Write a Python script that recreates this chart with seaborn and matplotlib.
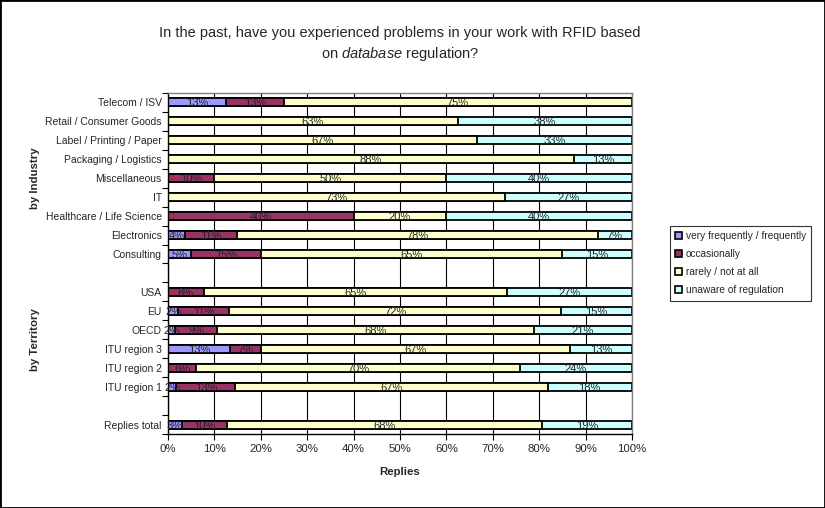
import numpy as np
import pandas as pd
import matplotlib
matplotlib.use("Agg")
import matplotlib.pyplot as plt
import matplotlib.transforms as mtransforms
from matplotlib.patches import Rectangle, Patch
import seaborn as sns

sns.set_style("white")
plt.rcParams['font.family'] = ['Liberation Sans', 'DejaVu Sans']
plt.rcParams['mathtext.fontset'] = 'custom'
plt.rcParams['mathtext.it'] = 'Liberation Sans:italic'
plt.rcParams['mathtext.rm'] = 'Liberation Sans'

# rows top to bottom; " " and "  " are empty spacer rows
order = ['Telecom / ISV', 'Retail / Consumer Goods', 'Label / Printing / Paper',
         'Packaging / Logistics', 'Miscellaneous', 'IT', 'Healthcare / Life Science',
         'Electronics', 'Consulting', ' ',
         'USA', 'EU', 'OECD', 'ITU region 3', 'ITU region 2', 'ITU region 1', '  ',
         'Replies total']
categories = ['Telecom / ISV', 'Retail / Consumer Goods', 'Label / Printing / Paper',
              'Packaging / Logistics', 'Miscellaneous', 'IT', 'Healthcare / Life Science',
              'Electronics', 'Consulting',
              'USA', 'EU', 'OECD', 'ITU region 3', 'ITU region 2', 'ITU region 1',
              'Replies total']
very_freq = [12.5, 0, 0, 0, 0, 0, 0, 3.7, 5, 0, 2.2, 1.5, 13.3, 0, 1.8, 3.0]
occasional = [12.5, 0, 0, 0, 10, 0, 40, 11.1, 15, 7.7, 10.9, 9.1, 6.7, 6.1, 12.7, 9.8]
rarely = [75, 62.5, 66.7, 87.5, 50, 72.7, 20, 77.8, 65, 65.4, 71.7, 68.2, 66.7, 69.7, 67.3, 67.8]
unaware = [0, 37.5, 33.3, 12.5, 40, 27.3, 40, 7.4, 15, 26.9, 15.2, 21.2, 13.3, 24.2, 18.2, 19.4]

series_names = ['very frequently / frequently', 'occasionally',
                'rarely / not at all', 'unaware of regulation']
colors = ['#9999FF', '#993366', '#FFFFCC', '#CCFFFF']

df = pd.DataFrame({'category': categories, 'vf': very_freq, 'occ': occasional,
                   'rare': rarely, 'unaware': unaware})
vals = df[['vf', 'occ', 'rare', 'unaware']].to_numpy()
cum = np.cumsum(vals, axis=1)

fig = plt.figure(figsize=(8.25, 5.08), dpi=100)
ax = fig.add_axes([0.2036, 0.1447, 0.5624, 0.6732])

# draw cumulative layers from widest to narrowest
for k in range(3, -1, -1):
    layer = pd.DataFrame({'category': categories, 'x': cum[:, k]})
    sns.barplot(data=layer, x='x', y='category', order=order, orient='h',
                color=colors[k], saturation=1, edgecolor='black', linewidth=1.3,
                width=0.42, ax=ax, errorbar=None)

# segment labels
ypos = {c: i for i, c in enumerate(order)}
for r, c in enumerate(categories):
    left = 0
    for k in range(4):
        v = vals[r, k]
        if v > 0:
            ax.text(left + v / 2, ypos[c] + 0.05, f"{int(np.floor(v + 0.5))}%",
                    ha='center', va='center', fontsize=8, color='#222222')
        left += v

ax.set_xlim(0, 100)
ax.set_ylim(len(order) - 0.5, -0.5)
ax.set_xticks(np.arange(0, 101, 10))
ax.set_xticklabels([f"{t}%" for t in range(0, 101, 10)], fontsize=8.2)
ax.xaxis.grid(True, color='black', linewidth=0.8)
ax.set_axisbelow(True)
ax.tick_params(axis='x', length=4, width=0.8, color='black', pad=3, direction='out', bottom=True)
ax.tick_params(axis='y', which='major', length=0, labelsize=7.5, pad=4.5)
ax.set_yticks(np.arange(-0.5, len(order), 1), minor=True)
ax.tick_params(axis='y', which='minor', length=4, width=0.8, color='black', left=True)
ax.set_xlabel('Replies', fontsize=8.2, fontweight='bold', labelpad=9)
ax.set_ylabel('')
for s in ['left', 'bottom']:
    ax.spines[s].set_color('black')
    ax.spines[s].set_linewidth(1.0)
for s in ['top', 'right']:
    ax.spines[s].set_color('#808080')
    ax.spines[s].set_linewidth(1.0)

# group labels
blend = mtransforms.blended_transform_factory(fig.transFigure, ax.transData)
ax.text(35 / 825, 4.0, 'by Industry', transform=blend, rotation=90, ha='center',
        va='center', fontsize=8.2, fontweight='bold')
ax.text(35 / 825, 12.5, 'by Territory', transform=blend, rotation=90, ha='center',
        va='center', fontsize=8.2, fontweight='bold')

fig.text(0.485, 0.912,
         'In the past, have you experienced problems in your work with RFID based\n'
         'on $\\it{database}$ regulation?',
         ha='center', va='center', fontsize=10.5, linespacing=1.35)

handles = [Patch(facecolor=col, edgecolor='black', linewidth=1.2) for col in colors]
leg = fig.legend(handles, series_names, loc='upper left', bbox_to_anchor=(0.812, 0.555),
                 fontsize=7.3, frameon=True, fancybox=False, handlelength=0.7,
                 handleheight=0.7, handletextpad=0.4, labelspacing=0.8,
                 borderpad=0.5, borderaxespad=0)
leg.get_frame().set_edgecolor('black')
leg.get_frame().set_linewidth(0.8)

fig.add_artist(Rectangle((0, 0), 1, 1, transform=fig.transFigure, fill=False,
                         edgecolor='black', linewidth=2))

fig.savefig('out.png', dpi=100)
